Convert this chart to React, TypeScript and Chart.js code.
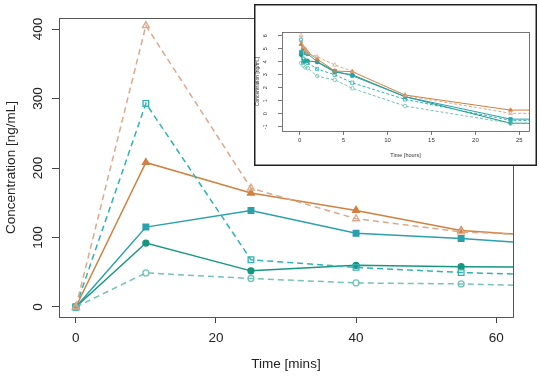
import React, { useEffect, useRef } from "react";
import { Chart, registerables } from "chart.js";
Chart.register(...registerables);

// ---- data (time in minutes, concentration in ng/mL) ----
const timesMin = [0, 10, 25, 40, 55, 120, 240, 360, 720, 1440, 2880];
const orangeSolid = [0, 208, 164, 139, 110, 67, 26.6, 25.3, 4.2, 1.32, 1.28];
const orangeDashed = [0, 405, 171, 127, 108, 80, 42.5, 26, 4.05, 1.03, 1.0];
const tealSolid = [0, 115, 139, 106, 98.6, 55, 26.6, 18.5, 3.7, 0.66, 0.64];
const greenSolid = [0, 92, 52, 60, 58, 53, 24.5, 20, 3.7, 0.48, 0.46];
const tealDashed = [0, 293, 68, 57, 49.6, 31, 20, 10.8, 3.0, 0.6, 0.58];
const lightDashed = [0, 49, 41, 34.6, 33.2, 18, 13.5, 7.0, 1.8, 0.48, 0.46];

const mainXTicks = [0, 20, 40, 60];
const mainYTicks = [0, 100, 200, 300, 400];
const insetXTicks = [0, 5, 10, 15, 20, 25];
const insetYTicks = [-1, 0, 1, 2, 3, 4, 5, 6];

const FONT = "'Liberation Sans', Arial, Helvetica, sans-serif";

const seriesDefs = [
  { label: "A dashed", values: orangeDashed, color: "#dba98b", dashed: true, filled: false, shape: "triangle" },
  { label: "B dashed", values: tealDashed, color: "#2fb1b5", dashed: true, filled: false, shape: "rect" },
  { label: "C dashed", values: lightDashed, color: "#74c2b8", dashed: true, filled: false, shape: "circle" },
  { label: "A", values: orangeSolid, color: "#d1803f", dashed: false, filled: true, shape: "triangle" },
  { label: "B", values: tealSolid, color: "#2aa0ad", dashed: false, filled: true, shape: "rect" },
  { label: "C", values: greenSolid, color: "#17967f", dashed: false, filled: true, shape: "circle" },
];

function rotatedYLabels(x: number, size: number, color: string) {
  return {
    id: "rotY",
    afterDraw(chart: any) {
      const s = chart.scales.y;
      const ctx = chart.ctx;
      ctx.save();
      ctx.fillStyle = color;
      ctx.font = `${size}px ${FONT}`;
      ctx.textAlign = "center";
      ctx.textBaseline = "middle";
      s.ticks.forEach((t: any) => {
        const y = s.getPixelForValue(t.value);
        ctx.save();
        ctx.translate(x, y);
        ctx.rotate(-Math.PI / 2);
        ctx.fillText(String(t.value), 0, 0);
        ctx.restore();
      });
      ctx.restore();
    },
  };
}

function framePlugin(color: string, width: number) {
  return {
    id: "frame",
    afterDraw(chart: any) {
      const a = chart.chartArea;
      const ctx = chart.ctx;
      ctx.save();
      ctx.strokeStyle = color;
      ctx.lineWidth = width;
      ctx.strokeRect(Math.round(a.left) + 0.5, Math.round(a.top) + 0.5, Math.round(a.right - a.left), Math.round(a.bottom - a.top));
      ctx.restore();
    },
  };
}

const insetBox = {
  id: "insetBox",
  beforeDraw(chart: any) {
    const ctx = chart.ctx;
    ctx.save();
    ctx.fillStyle = "#ffffff";
    ctx.fillRect(0, 0, chart.width, chart.height);
    ctx.restore();
  },
  afterDraw(chart: any) {
    const ctx = chart.ctx;
    ctx.save();
    ctx.strokeStyle = "#222";
    ctx.lineWidth = 1.5;
    ctx.strokeRect(0.75, 0.75, chart.width - 1.5, chart.height - 1.5);
    ctx.restore();
  },
};

function fixedTicks(vals: number[]) {
  return (s: any) => {
    s.ticks = vals.map((v) => ({ value: v }));
  };
}

export default function App() {
  const mainRef = useRef<HTMLCanvasElement>(null);
  const insetRef = useRef<HTMLCanvasElement>(null);

  useEffect(() => {
    const mainDatasets = seriesDefs.map((d) => ({
      label: d.label,
      data: timesMin.map((t, i) => ({ x: t, y: d.values[i] })),
      borderColor: d.color,
      backgroundColor: d.color,
      borderWidth: 1.5,
      borderDash: d.dashed ? [6, 4] : [],
      pointStyle: d.shape,
      pointRadius: d.shape === "circle" ? 3 : d.shape === "rect" ? 4 : 4,
      pointBorderWidth: 1.3,
      pointBorderColor: d.color,
      pointBackgroundColor: d.filled ? d.color : "rgba(255,255,255,0)",
      tension: 0,
      clip: 0,
    }));

    const mainChart = new Chart(mainRef.current as HTMLCanvasElement, {
      type: "line",
      data: { datasets: mainDatasets as any },
      options: {
        animation: false,
        responsive: false,
        parsing: false as any,
        layout: { padding: { left: 0, right: 26, top: 18, bottom: 0 } },
        plugins: { legend: { display: false }, tooltip: { enabled: false } },
        scales: {
          x: {
            type: "linear",
            min: -2.4,
            max: 62.4,
            afterBuildTicks: fixedTicks(mainXTicks),
            afterFit: (s: any) => {
              s.height = 60;
            },
            grid: { drawOnChartArea: false, drawTicks: true, tickLength: 6, color: "#444", lineWidth: 1 },
            border: { display: false },
            ticks: { color: "#222", font: { family: FONT, size: 13.5 }, padding: 7, maxRotation: 0, autoSkip: false },
            title: { display: true, text: "Time [mins]", color: "#222", font: { family: FONT, size: 13.5 }, padding: { top: 0, bottom: 5 } },
          },
          y: {
            type: "linear",
            min: -14.4,
            max: 415.9,
            afterBuildTicks: fixedTicks(mainYTicks),
            afterFit: (s: any) => {
              s.width = 59;
            },
            grid: { drawOnChartArea: false, drawTicks: true, tickLength: 7, color: "#444", lineWidth: 1 },
            border: { display: false },
            ticks: { display: false },
            title: { display: true, text: "Concentration [ng/mL]", color: "#222", font: { family: FONT, size: 13.5 }, padding: { top: 3, bottom: 0 } },
          },
        },
      } as any,
      plugins: [framePlugin("#555", 1), rotatedYLabels(38, 13.5, "#222")],
    });

    const insetDatasets = seriesDefs.map((d) => ({
      label: d.label,
      data: timesMin
        .map((t, i) => ({ t, v: d.values[i] }))
        .filter((p) => p.v > 0)
        .map((p) => ({ x: p.t / 60, y: Math.log(p.v) })),
      borderColor: d.color,
      backgroundColor: d.color,
      borderWidth: 1,
      borderDash: d.dashed ? [3, 2] : [],
      pointStyle: d.shape,
      pointRadius: d.shape === "circle" ? 1.8 : 2.3,
      pointBorderWidth: 0.8,
      pointBorderColor: d.color,
      pointBackgroundColor: d.filled ? d.color : "rgba(255,255,255,0)",
      tension: 0,
      clip: 0,
    }));

    const insetChart = new Chart(insetRef.current as HTMLCanvasElement, {
      type: "line",
      data: { datasets: insetDatasets as any },
      options: {
        animation: false,
        responsive: false,
        parsing: false as any,
        layout: { padding: { left: 0, right: 8, top: 28, bottom: 0 } },
        plugins: { legend: { display: false }, tooltip: { enabled: false } },
        scales: {
          x: {
            type: "linear",
            min: -2,
            max: 26.1,
            afterBuildTicks: fixedTicks(insetXTicks),
            afterFit: (s: any) => {
              s.height = 35;
            },
            grid: { drawOnChartArea: false, drawTicks: true, tickLength: 4, color: "#555", lineWidth: 0.8 },
            border: { display: false },
            ticks: { color: "#333", font: { family: FONT, size: 6 }, padding: 1.5, maxRotation: 0, autoSkip: false },
            title: { display: true, text: "Time [hours]", color: "#333", font: { family: FONT, size: 5.5 }, padding: { top: 0, bottom: 7.5 } },
          },
          y: {
            type: "linear",
            min: -1.33,
            max: 6.28,
            afterBuildTicks: fixedTicks(insetYTicks),
            afterFit: (s: any) => {
              s.width = 28;
            },
            grid: { drawOnChartArea: false, drawTicks: true, tickLength: 4, color: "#555", lineWidth: 0.8 },
            border: { display: false },
            ticks: { display: false },
            title: { display: true, text: "Concentration [ng/mL]", color: "#333", font: { family: FONT, size: 5 }, padding: { top: 0.5, bottom: 0 } },
          },
        },
      } as any,
      plugins: [insetBox, framePlugin("#555", 0.8), rotatedYLabels(11, 5.5, "#333")],
    });

    return () => {
      mainChart.destroy();
      insetChart.destroy();
    };
  }, []);

  return (
    <div style={{ position: "absolute", left: 0, top: 0, width: 539, height: 377, background: "#fff" }}>
      <canvas ref={mainRef} width={539} height={377} style={{ position: "absolute", left: 0, top: 0 }} />
      <canvas ref={insetRef} width={283} height={162} style={{ position: "absolute", left: 254, top: 4 }} />
    </div>
  );
}
